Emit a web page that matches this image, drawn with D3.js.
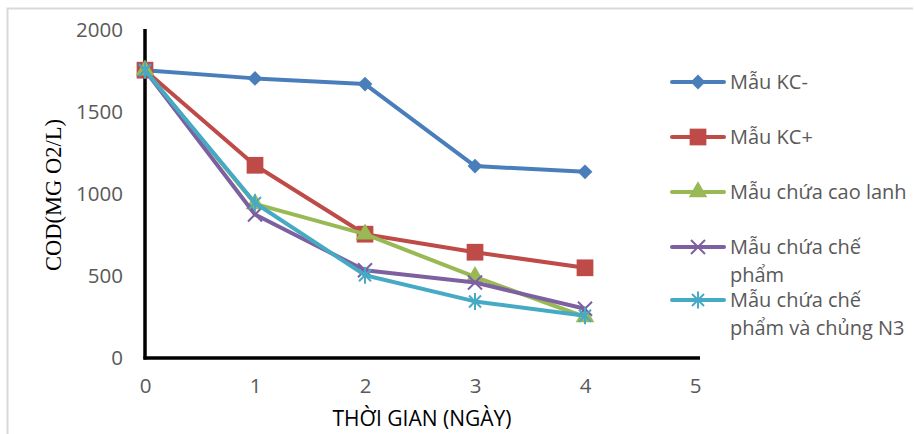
<!DOCTYPE html>
<html>
<head>
<meta charset="utf-8">
<script src="https://cdn.jsdelivr.net/npm/d3@7"></script>
<style>
  body { margin: 0; background: #fff; }
  svg { display: block; }
</style>
</head>
<body>
<svg id="chart" width="914" height="434"></svg>
<script>
// values
const days = [0, 1, 2, 3, 4];
const kcMinus = [1755, 1705, 1670, 1170, 1135];
const kcPlus = [1755, 1175, 755, 645, 550];
const caoLanh = [1755, 940, 755, 495, 250];
const chePham = [1755, 875, 535, 460, 300];
const chePhamN3 = [1755, 945, 505, 345, 258];
const yTicks = [0, 500, 1000, 1500, 2000];
const xTicks = [0, 1, 2, 3, 4, 5];

const series = [
  { name: ["Mẫu KC-"], values: kcMinus, color: "#4A7EBB", symbol: "diamond" },
  { name: ["Mẫu KC+"], values: kcPlus, color: "#BE4B48", symbol: "square" },
  { name: ["Mẫu chứa cao lanh"], values: caoLanh, color: "#98B954", symbol: "triangle" },
  { name: ["Mẫu chứa chế", "phẩm"], values: chePham, color: "#7D60A0", symbol: "cross" },
  { name: ["Mẫu chứa chế", "phẩm và chủng N3"], values: chePhamN3, color: "#46AAC5", symbol: "star" }
];

const svg = d3.select("#chart");
const margin = { top: 30, left: 145, bottom: 358, right: 695 };
const textGrey = "#595959";
const font = "'Open Sans', sans-serif";

// light frame of the chart area
svg.append("path")
  .attr("d", "M7.5,440 V8.5 H913")
  .attr("fill", "none")
  .attr("stroke", "#d9d9d9")
  .attr("stroke-width", 2);

const x = d3.scaleLinear().domain([0, 5]).range([margin.left, margin.right]);
const y = d3.scaleLinear().domain([0, 2000]).range([margin.bottom, margin.top]);

// y axis
const yAxis = svg.append("g")
  .attr("transform", `translate(${margin.left},0)`)
  .call(d3.axisLeft(y).tickValues(yTicks).tickFormat(d3.format("d")).tickSize(0).tickPadding(22));
yAxis.select(".domain").remove();
yAxis.selectAll(".tick text")
  .attr("fill", textGrey)
  .attr("font-family", font)
  .attr("font-size", 20.5);

// x axis
const xAxis = svg.append("g")
  .attr("transform", `translate(0,${margin.bottom})`)
  .call(d3.axisBottom(x).tickValues(xTicks).tickFormat(d3.format("d")).tickSize(0).tickPadding(20));
xAxis.select(".domain").remove();
xAxis.selectAll(".tick text")
  .attr("fill", textGrey)
  .attr("font-family", font)
  .attr("font-size", 20.5);

// thick black axis lines
svg.append("line")
  .attr("x1", margin.left).attr("x2", margin.left)
  .attr("y1", margin.top - 1).attr("y2", margin.bottom + 1.5)
  .attr("stroke", "#000").attr("stroke-width", 3.5);
svg.append("line")
  .attr("x1", margin.left - 1.5).attr("x2", margin.right + 5)
  .attr("y1", margin.bottom).attr("y2", margin.bottom)
  .attr("stroke", "#000").attr("stroke-width", 3.5);

// axis titles
svg.append("text")
  .attr("transform", "translate(61,195) rotate(-90)")
  .attr("text-anchor", "middle")
  .attr("font-family", "'Liberation Serif', 'Times New Roman', serif")
  .attr("font-size", 22.5)
  .attr("fill", "#000")
  .text("COD(MG O2/L)");

svg.append("text")
  .attr("x", 422)
  .attr("y", 426)
  .attr("text-anchor", "middle")
  .attr("font-family", font)
  .attr("font-size", 21)
  .attr("fill", "#000")
  .text("THỜI GIAN (NGÀY)");

// marker drawing
function marker(g, type, color, cx, cy) {
  if (type === "diamond") {
    g.append("path")
      .attr("d", d3.symbol(d3.symbolSquare, 110)())
      .attr("transform", `translate(${cx},${cy}) rotate(45)`)
      .attr("fill", color);
  } else if (type === "square") {
    g.append("path")
      .attr("d", d3.symbol(d3.symbolSquare, 280)())
      .attr("transform", `translate(${cx},${cy})`)
      .attr("fill", color);
  } else if (type === "triangle") {
    g.append("path")
      .attr("d", d3.symbol(d3.symbolTriangle, 150)())
      .attr("transform", `translate(${cx},${cy})`)
      .attr("fill", color);
  } else if (type === "cross") {
    g.append("path")
      .attr("d", "M-7,-7L7,7M-7,7L7,-7")
      .attr("transform", `translate(${cx},${cy})`)
      .attr("stroke", color).attr("stroke-width", 2).attr("fill", "none");
  } else if (type === "star") {
    g.append("path")
      .attr("d", "M-6,-6L6,6M-6,6L6,-6M0,-8.5L0,8.5")
      .attr("transform", `translate(${cx},${cy})`)
      .attr("stroke", color).attr("stroke-width", 2).attr("fill", "none");
  }
}

const line = d3.line()
  .x((d, i) => x(days[i]))
  .y(d => y(d));

series.forEach(s => {
  const g = svg.append("g");
  g.append("path")
    .datum(s.values)
    .attr("d", line)
    .attr("fill", "none")
    .attr("stroke", s.color)
    .attr("stroke-width", 4)
    .attr("stroke-linejoin", "round")
    .attr("stroke-linecap", "round");
  s.values.forEach((v, i) => marker(g, s.symbol, s.color, x(days[i]), y(v)));
});

// legend
const legendY = [82, 137, 192, 247, 300];
series.forEach((s, i) => {
  const g = svg.append("g");
  const ly = legendY[i];
  g.append("line")
    .attr("x1", 672).attr("x2", 724)
    .attr("y1", ly).attr("y2", ly)
    .attr("stroke", s.color)
    .attr("stroke-width", 4)
    .attr("stroke-linecap", "round");
  marker(g, s.symbol, s.color, 698, ly);
  s.name.forEach((t, j) => {
    g.append("text")
      .attr("x", 730)
      .attr("y", ly + 7 + j * 28)
      .attr("font-family", font)
      .attr("font-size", 20)
      .attr("fill", textGrey)
      .text(t);
  });
});
</script>
</body>
</html>
